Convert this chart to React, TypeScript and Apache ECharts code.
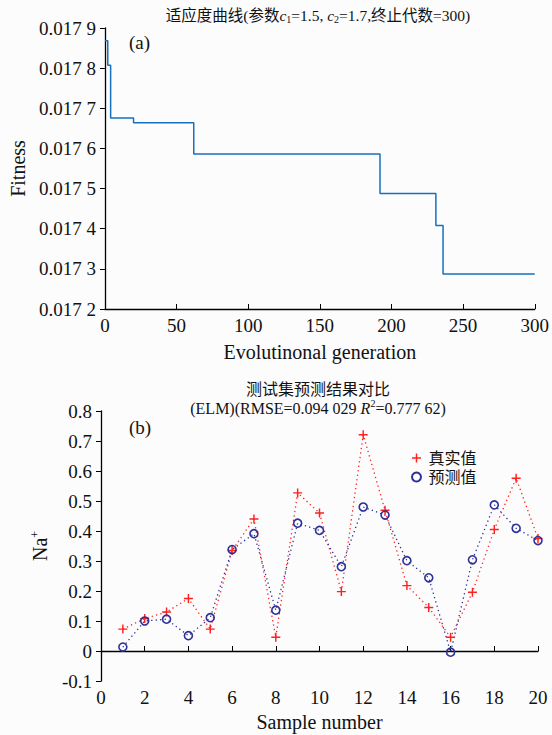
import React, { useEffect, useRef } from "react";
import * as echarts from "echarts";

// Fitness curve (a): generation where each level starts, and the level value
const fitnessGen = [0, 2, 4, 20, 62, 192, 231, 236, 300];
const fitnessVal = [0.017868, 0.017807, 0.017676, 0.017664, 0.017586, 0.017488, 0.017408, 0.017287, 0.017287];

// Test-set comparison (b)
const sampleNo = [1, 2, 3, 4, 5, 6, 7, 8, 9, 10, 11, 12, 13, 14, 15, 16, 17, 18, 19, 20];
const trueVals = [0.073, 0.108, 0.130, 0.175, 0.073, 0.335, 0.440, 0.046, 0.527, 0.460, 0.198, 0.721, 0.469, 0.218, 0.145, 0.046, 0.196, 0.405, 0.576, 0.375];
const predVals = [0.013, 0.100, 0.106, 0.051, 0.111, 0.338, 0.391, 0.136, 0.426, 0.402, 0.281, 0.480, 0.453, 0.301, 0.244, -0.004, 0.304, 0.487, 0.409, 0.368];

const legendNames = ["真实值", "预测值"];

const FONT = "'Liberation Serif', 'Times New Roman', 'Noto Sans CJK SC', serif";
const TXT = "#111";
const RED = "#ff2020";
const BLUE = "#2d3199";
const PLUS = "path://M4.2,0H5.8V4.2H10V5.8H5.8V10H4.2V5.8H0V4.2H4.2Z";

export default function App() {
  const ref = useRef<HTMLDivElement>(null);
  useEffect(() => {
    if (!ref.current) return;
    const chart = echarts.init(ref.current, null, { renderer: "svg" });
    const axisLine = { show: true, lineStyle: { color: "#000", width: 1.3 } };
    const label = { color: TXT, fontSize: 19, fontFamily: FONT };
    const nameStyle = { color: TXT, fontSize: 20, fontFamily: FONT };
    chart.setOption({
      animation: false,
      backgroundColor: "#fcfcfc",
      graphic: [
        {
          type: "text",
          x: 318,
          y: 15,
          style: {
            text: "适应度曲线(参数{i|c}{sub|1}=1.5, {i|c}{sub|2}=1.7,终止代数=300)",
            textAlign: "center",
            align: "center",
            textVerticalAlign: "middle",
            verticalAlign: "middle",
            fontSize: 15.5,
            fontFamily: FONT,
            fill: TXT,
            lineHeight: 19,
            rich: {
              i: { fontStyle: "italic", fontSize: 15.5, fontFamily: FONT, fill: TXT, lineHeight: 19 },
              sub: { fontSize: 10, fontFamily: FONT, fill: TXT, lineHeight: 10, verticalAlign: "bottom" },
            },
          },
        },
        {
          type: "text",
          x: 129,
          y: 42,
          style: {
            text: "(a)",
            fontSize: 19,
            fontFamily: FONT,
            fill: TXT,
            textVerticalAlign: "middle",
            verticalAlign: "middle",
          },
        },
        {
          type: "text",
          x: 318,
          y: 389,
          style: {
            text: "测试集预测结果对比",
            textAlign: "center",
            align: "center",
            textVerticalAlign: "middle",
            verticalAlign: "middle",
            fontSize: 16,
            fontFamily: FONT,
            fill: TXT,
          },
        },
        {
          type: "text",
          x: 318,
          y: 408,
          style: {
            text: "(ELM)(RMSE=0.094 029 {i|R}{sup|2}=0.777 62)",
            textAlign: "center",
            align: "center",
            textVerticalAlign: "middle",
            verticalAlign: "middle",
            fontSize: 16,
            fontFamily: FONT,
            fill: TXT,
            lineHeight: 19,
            rich: {
              i: { fontStyle: "italic", fontSize: 16, fontFamily: FONT, fill: TXT, lineHeight: 19 },
              sup: { fontSize: 10, fontFamily: FONT, fill: TXT, lineHeight: 10, verticalAlign: "top" },
            },
          },
        },
        {
          type: "text",
          x: 129,
          y: 427,
          style: {
            text: "(b)",
            fontSize: 19,
            fontFamily: FONT,
            fill: TXT,
            textVerticalAlign: "middle",
            verticalAlign: "middle",
          },
        },
      ],
      grid: [
        { left: 101, right: 14, top: 28, height: 281 },
        { left: 101, right: 14, top: 411, height: 270 },
      ],
      xAxis: [
        {
          type: "value",
          gridIndex: 0,
          min: 0,
          max: 300,
          interval: 50,
          axisLine,
          axisTick: { show: true, inside: true, length: 5, lineStyle: { color: "#000" } },
          axisLabel: { ...label, margin: 7 },
          splitLine: { show: false },
          name: "Evolutinonal generation",
          nameLocation: "middle",
          nameGap: 33,
          nameTextStyle: nameStyle,
        },
        {
          type: "value",
          gridIndex: 1,
          min: 0,
          max: 20,
          interval: 2,
          axisLine,
          axisTick: { show: true, inside: true, length: 5, lineStyle: { color: "#000" } },
          axisLabel: { ...label, margin: 7 },
          splitLine: { show: false },
          name: "Sample number",
          nameLocation: "middle",
          nameGap: 31,
          nameTextStyle: nameStyle,
        },
      ],
      yAxis: [
        {
          type: "value",
          gridIndex: 0,
          min: 0.0172,
          max: 0.0179,
          interval: 0.0001,
          axisLine,
          axisTick: { show: true, inside: false, length: 5, lineStyle: { color: "#000" } },
          axisLabel: {
            ...label,
            margin: 9,
            formatter: (v: number) => {
              const s = v.toFixed(4);
              return s.slice(0, 5) + " " + s.slice(5);
            },
          },
          splitLine: { show: false },
          name: "Fitness",
          nameLocation: "middle",
          nameGap: 73,
          nameTextStyle: nameStyle,
        },
        {
          type: "value",
          gridIndex: 1,
          min: -0.1,
          max: 0.8,
          interval: 0.1,
          axisLine,
          axisTick: { show: true, inside: false, length: 5, lineStyle: { color: "#000" } },
          axisLabel: {
            ...label,
            margin: 9,
            formatter: (v: number) => String(Number(v.toFixed(1))),
          },
          splitLine: { show: false },
          name: "Na{sup|+}",
          nameLocation: "middle",
          nameGap: 42,
          nameTextStyle: {
            ...nameStyle,
            lineHeight: 22,
            rich: {
              sup: { fontSize: 12, fontFamily: FONT, color: TXT, lineHeight: 12, verticalAlign: "top" },
            },
          },
        },
      ],
      legend: {
        orient: "vertical",
        left: 406,
        top: 445,
        itemGap: 3,
        itemWidth: 14,
        itemHeight: 9,
        textStyle: { color: TXT, fontSize: 16, fontFamily: FONT },
        data: [
          { name: legendNames[0], icon: PLUS, itemStyle: { color: RED } },
          { name: legendNames[1], icon: "emptyCircle", itemStyle: { color: BLUE } },
        ],
      },
      series: [
        {
          name: "fitness",
          type: "line",
          xAxisIndex: 0,
          yAxisIndex: 0,
          step: "end",
          symbol: "none",
          data: fitnessGen.map((g, i) => [g, fitnessVal[i]]),
          lineStyle: { color: "#1570c0", width: 1.5 },
        },
        {
          name: legendNames[0],
          type: "line",
          xAxisIndex: 1,
          yAxisIndex: 1,
          data: sampleNo.map((s, i) => [s, trueVals[i]]),
          symbol: PLUS,
          symbolSize: 9,
          itemStyle: { color: RED },
          lineStyle: { color: RED, width: 1.3, type: [1.3, 3.2] },
        },
        {
          name: legendNames[1],
          type: "line",
          xAxisIndex: 1,
          yAxisIndex: 1,
          data: sampleNo.map((s, i) => [s, predVals[i]]),
          symbol: "circle",
          symbolSize: 8,
          itemStyle: { color: "rgba(0,0,0,0)", borderColor: BLUE, borderWidth: 1.6 },
          lineStyle: { color: BLUE, width: 1.3, type: [1.3, 3.2] },
        },
      ],
    });
    return () => chart.dispose();
  }, []);
  return (
    <div
      ref={ref}
      style={{ position: "fixed", left: 0, top: 0, width: 552, height: 735 }}
    />
  );
}
